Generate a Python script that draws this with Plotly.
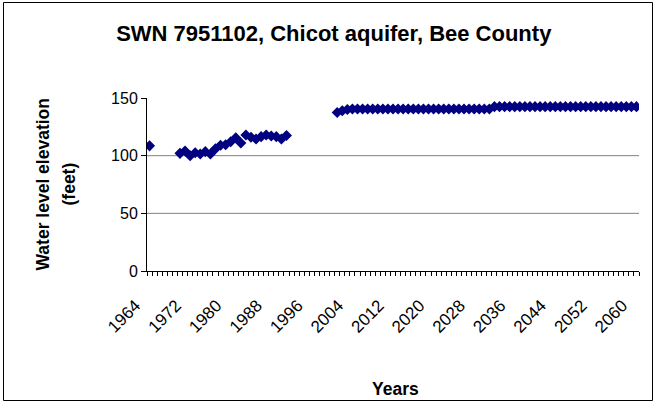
import plotly.graph_objects as go

# ---- data ----
hist_years = [1964] + list(range(1970, 1992))
hist_levels = [108.5,
               102, 104, 100, 102.5, 101.5, 103.5, 101.5, 106, 109, 109.5,
               112, 115.5, 111, 118, 116, 114.5, 116.5, 118, 117, 116.5,
               114.5, 117.5]

proj_years = list(range(2001, 2061))
proj_levels = ([137.5, 139, 140] + [140.5] * 28 + [142.5] * 29)

tick_years = list(range(1964, 2061, 8))
tick_labels = [str(y) for y in tick_years]
y_ticks = [0, 50, 100, 150]
grid_levels = [50, 100]

years = hist_years + proj_years
levels = hist_levels + proj_levels

FONT = "Arial, Liberation Sans, sans-serif"

W, H = 657, 404
L, R, T, B = 147, 18, 98, 133
pw, ph = W - L - R, H - T - B

fig = go.Figure()
fig.add_trace(go.Scatter(
    x=years, y=levels, mode="markers",
    marker=dict(symbol="diamond", size=8.5, color="#000080",
                line=dict(width=0)),
    showlegend=False, hoverinfo="x+y"))

shapes = []
for g in grid_levels:
    shapes.append(dict(type="line", xref="paper", x0=0, x1=1, yref="y",
                       y0=g, y1=g, line=dict(color="#808080", width=1),
                       layer="below"))


def px_x(p):
    return (p - L) / pw


def px_y(p):
    return (H - B - p) / ph


# chart-area border
shapes.append(dict(type="rect", xref="paper", yref="paper",
                   x0=px_x(3.5), x1=px_x(652.5), y0=px_y(400.5), y1=px_y(2.5),
                   line=dict(color="black", width=1)))

fig.update_layout(
    width=W, height=H,
    margin=dict(l=L, r=R, t=T, b=B, pad=0),
    paper_bgcolor="white", plot_bgcolor="white",
    font=dict(family=FONT, color="black", size=15),
    title=dict(text="<b>SWN 7951102, Chicot aquifer, Bee County</b>",
               xref="container", x=0.508, xanchor="center",
               yref="container", y=1 - 33 / H, yanchor="middle",
               font=dict(size=22, family=FONT, color="black")),
    xaxis=dict(range=[1963.5, 2060.5], tickmode="array",
               tickvals=tick_years, ticktext=tick_labels, tickangle=-45,
               ticks="", showline=True, linecolor="black", linewidth=1,
               showgrid=False, zeroline=False,
               tickfont=dict(size=17, family=FONT, color="black"),
               ticklabelshift=-14, ticklabelstandoff=17,
               minor=dict(tickmode="linear", tick0=1963.5, dtick=1,
                          ticks="outside", ticklen=4, tickcolor="black",
                          tickwidth=1, showgrid=False)),
    yaxis=dict(range=[0, 150], tickmode="array", tickvals=y_ticks,
               ticks="outside", ticklen=5, tickcolor="black",
               showline=True, linecolor="black", linewidth=1,
               showgrid=False, zeroline=False,
               tickfont=dict(size=16, family=FONT, color="black")),
    shapes=shapes,
    annotations=[
        dict(text="<b>Water level elevation</b>", textangle=-90,
             xref="paper", yref="paper", x=px_x(42), y=0.5,
             xanchor="center", yanchor="middle", showarrow=False,
             font=dict(size=17.5, family=FONT, color="black")),
        dict(text="<b>(feet)</b>", textangle=-90,
             xref="paper", yref="paper", x=px_x(68), y=0.5,
             xanchor="center", yanchor="middle", showarrow=False,
             font=dict(size=17.5, family=FONT, color="black")),
        dict(text="<b>Years</b>", xref="paper", yref="paper",
             x=px_x(395), y=px_y(389), xanchor="center", yanchor="middle",
             showarrow=False,
             font=dict(size=17.5, family=FONT, color="black")),
    ],
)

fig.write_html("out.html", config={"displayModeBar": False},
               post_script="document.body.style.margin='0px';")
